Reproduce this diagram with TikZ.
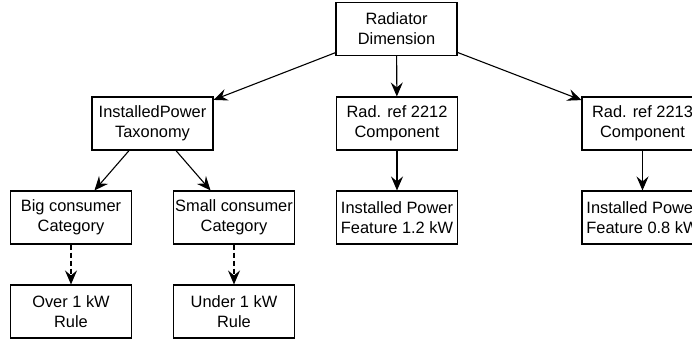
\documentclass[tikz,border=0pt]{standalone}
\usepackage{fontspec}
\setmainfont{Liberation Sans}
\usetikzlibrary{arrows.meta}
\begin{document}
\begin{tikzpicture}[x=1pt,y=-1pt,
  box/.style={draw,line width=1.1pt,minimum width=121pt,minimum height=53pt,inner sep=0pt,align=center,font=\fontsize{16.4}{20}\selectfont},
  conn/.style={line width=1.1pt,-{Stealth[length=14pt,width=12pt,inset=5pt]}},
  dconn/.style={conn,dash pattern=on 5pt off 3pt}]
\useasboundingbox (0,0) rectangle (692,341);
\clip (0,0) rectangle (692,341);
\fill[white] (0,0) rectangle (692,341);
\node[box] (root) at (396.5,29) {Radiator\\Dimension};
\node[box] (tax) at (152.5,123.5) {InstalledPower\\Taxonomy};
\node[box] (r2212) at (397,123.5) {Rad. ref 2212\\Component};
\node[box] (r2213) at (642.5,123.5) {Rad. ref 2213\\Component};
\node[box] (big) at (71,217.5) {Big consumer\\Category};
\node[box] (small) at (234,217.5) {Small consumer\\Category};
\node[box] (f12) at (397,217.5) {Installed Power\\Feature 1.2 kW};
\node[box] (f08) at (642.5,217.5) {Installed Power\\Feature 0.8 kW};
\node[box] (over) at (71,311.5) {Over 1 kW\\Rule};
\node[box] (under) at (234,311.5) {Under 1 kW\\Rule};
\draw[conn] (root) -- (tax);
\draw[conn] (root) -- (r2212);
\draw[conn] (root) -- (r2213);
\draw[conn] (tax) -- (big);
\draw[conn] (tax) -- (small);
\draw[conn] (r2212) -- (f12);
\draw[conn] (r2213) -- (f08);
\draw[dconn] (big) -- (over);
\draw[dconn] (small) -- (under);
\end{tikzpicture}
\end{document}
